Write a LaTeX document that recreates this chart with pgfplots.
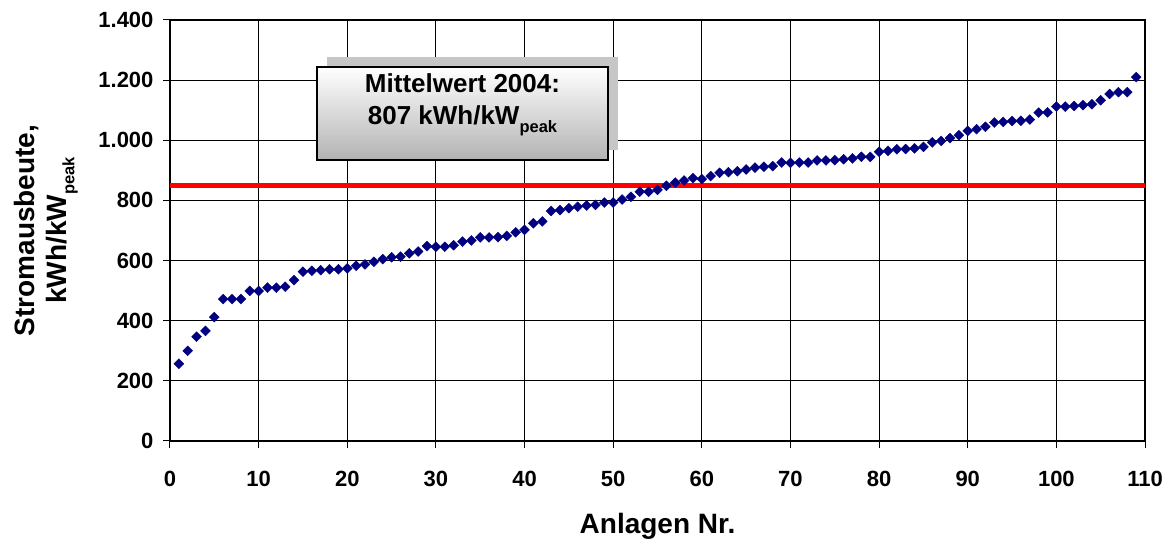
\documentclass[border=0pt]{standalone}
\usepackage{pgfplots}
\pgfplotsset{compat=1.18}
\usepackage{fontspec}
\setmainfont{Liberation Sans}
\definecolor{navy}{RGB}{0,0,128}
\newcommand{\sub}[1]{\raisebox{-0.28em}{\fontsize{16.5}{16.5}\selectfont #1}}
\begin{document}
\begin{tikzpicture}
\useasboundingbox (-170pt,-99pt) rectangle (1004pt,441pt);
\begin{axis}[
  scale only axis,
  width=975pt, height=421pt,
  xmin=0, xmax=110, ymin=0, ymax=1400,
  xtick={0,10,...,110},
  ytick={0,200,...,1400},
  yticklabels={0,200,400,600,800,1.000,1.200,1.400},
  tick align=outside,
  xtick pos=left, ytick pos=left,
  major tick length=7pt,
  tick style={black, line width=1pt},
  grid=major,
  major grid style={black, line width=0.9pt},
  axis line style={black, line width=1.3pt},
  /pgf/number format/assume math mode=true,
  tick label style={font=\fontsize{22}{26}\selectfont\bfseries},
  xticklabel style={yshift=-20pt},
  yticklabel style={xshift=-6pt},
  xlabel={Anlagen Nr.},
  xlabel style={font=\fontsize{28}{32}\selectfont\bfseries, at={(axis description cs:0.5,0)}, anchor=base, yshift=-92pt},
  clip=false,
]
\addplot[only marks, mark=square*, mark size=3.5pt, mark options={rotate=45, fill=navy, draw=navy}, color=navy] coordinates {
(1,257) (2,300) (3,347) (4,366) (5,412) (6,472) (7,472) (8,472) (9,499) (10,499)
(11,510) (12,510) (13,513) (14,535) (15,563) (16,566) (17,568) (18,571) (19,571) (20,574)
(21,583) (22,587) (23,596) (24,605) (25,611) (26,613) (27,624) (28,630) (29,648) (30,646)
(31,646) (32,651) (33,663) (34,667) (35,677) (36,677) (37,678) (38,682) (39,694) (40,702)
(41,724) (42,730) (43,765) (44,768) (45,774) (46,779) (47,783) (48,785) (49,793) (50,793)
(51,803) (52,812) (53,829) (54,829) (55,835) (56,849) (57,859) (58,866) (59,874) (60,871)
(61,881) (62,892) (63,894) (64,897) (65,903) (66,909) (67,912) (68,914) (69,926) (70,925)
(71,926) (72,926) (73,933) (74,933) (75,934) (76,937) (77,940) (78,945) (79,945) (80,962)
(81,965) (82,970) (83,971) (84,973) (85,978) (86,993) (87,998) (88,1007) (89,1017) (90,1031)
(91,1037) (92,1045) (93,1059) (94,1061) (95,1064) (96,1065) (97,1069) (98,1092) (99,1093) (100,1112)
(101,1112) (102,1114) (103,1117) (104,1120) (105,1133) (106,1154) (107,1160) (108,1160) (109,1210)
};
\addplot[red, line width=5pt, no marks] coordinates {(0,848) (110,848)};
\fill[gray!45] (axis cs:17.7,967) rectangle (axis cs:50.5,1277);
\draw[black, line width=1.3pt, top color=white, bottom color=gray!60] (axis cs:16.6,934) rectangle (axis cs:49.4,1244);
\node[font=\fontsize{26}{32}\selectfont\bfseries, align=center] at (axis cs:33,1118) {Mittelwert 2004:\\807 kWh/kW\sub{peak}};
\end{axis}
\node[rotate=90, font=\fontsize{28}{32}\selectfont\bfseries, align=center] at ([xshift=-124pt]current axis.west) {Stromausbeute,\\kWh/kW\sub{peak}};
\end{tikzpicture}
\end{document}
